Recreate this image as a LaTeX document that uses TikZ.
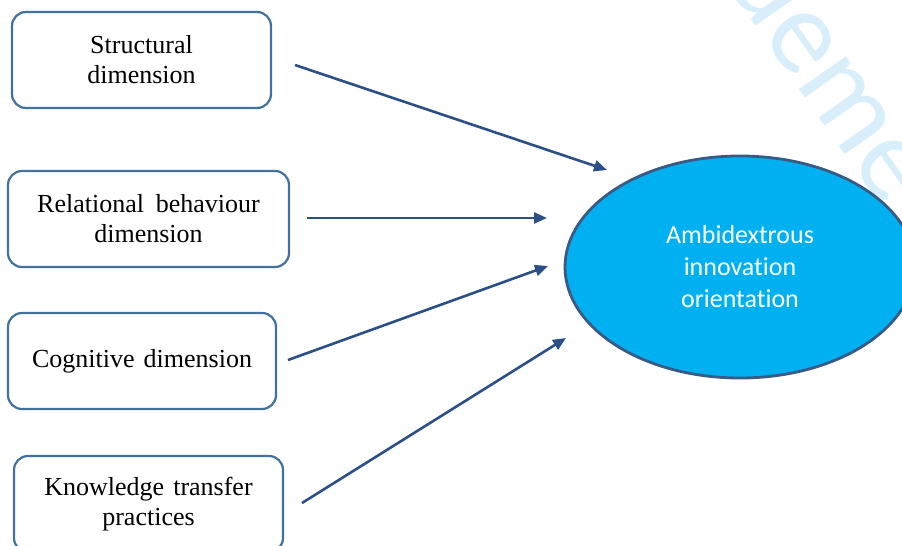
\documentclass[tikz,border=0pt]{standalone}
\usepackage{fontspec}
\setmainfont{Liberation Serif}
\newfontfamily\calibri[Ligatures=NoCommon]{Carlito}
\usetikzlibrary{shapes.geometric,arrows.meta}
\definecolor{boxline}{HTML}{41719C}
\definecolor{arrowcol}{HTML}{2B5088}
\definecolor{ellfill}{HTML}{00B0F0}
\definecolor{ellline}{HTML}{3A5A86}
\definecolor{wmark}{HTML}{D8EFFB}
\tikzset{
  factor/.style={draw=boxline, line width=2.2pt, rounded corners=14pt, fill=white,
    align=center, inner sep=0pt, minimum height=96pt,
    font=\fontsize{26}{30}\selectfont},
  outcome/.style={ellipse, draw=ellline, line width=2.8pt, fill=ellfill,
    minimum width=350pt, minimum height=222pt, inner sep=0pt, align=center,
    text=white, font=\calibri\fontsize{26}{32}\selectfont},
  arr/.style={draw=arrowcol, line width=2.6pt, -{Triangle[length=13pt,width=11pt]}},
  wm/.style={text=wmark, font=\calibri\fontsize{120}{120}\selectfont, inner sep=0pt}
}
\begin{document}
\begin{tikzpicture}[x=1pt,y=-1pt]
\useasboundingbox (0,0) rectangle (902,546);
\clip (0,0) rectangle (902,546);
\fill[white] (0,0) rectangle (902,546);
% watermark
\node[wm, rotate=-55] (wmtext) at (838,72) {deme};
% factor boxes
\node[factor, minimum width=259pt] (b1) at (141.5,60) {Structural\\dimension};
\node[factor, minimum width=281pt] (b2) at (148.5,219) {Relational\hspace{0.45em}behaviour\\dimension};
\node[factor, minimum width=268pt] (b3) at (142,361) {Cognitive\hspace{0.35em}dimension};
\node[factor, minimum width=269pt] (b4) at (148.5,504) {Knowledge\hspace{0.35em}transfer\\practices};
% outcome
\node[outcome] (ell) at (740,267) {Ambidextrous\\innovation\\orientation};
% connector end points
\coordinate (s1) at (295,65);  \coordinate (t1) at (607,170);
\coordinate (s2) at (307,218); \coordinate (t2) at (547,218);
\coordinate (s3) at (288,360); \coordinate (t3) at (548,266);
\coordinate (s4) at (302,503); \coordinate (t4) at (566,338);
\draw[arr] (s1) -- (t1);
\draw[arr] (s2) -- (t2);
\draw[arr] (s3) -- (t3);
\draw[arr] (s4) -- (t4);
\end{tikzpicture}
\end{document}
